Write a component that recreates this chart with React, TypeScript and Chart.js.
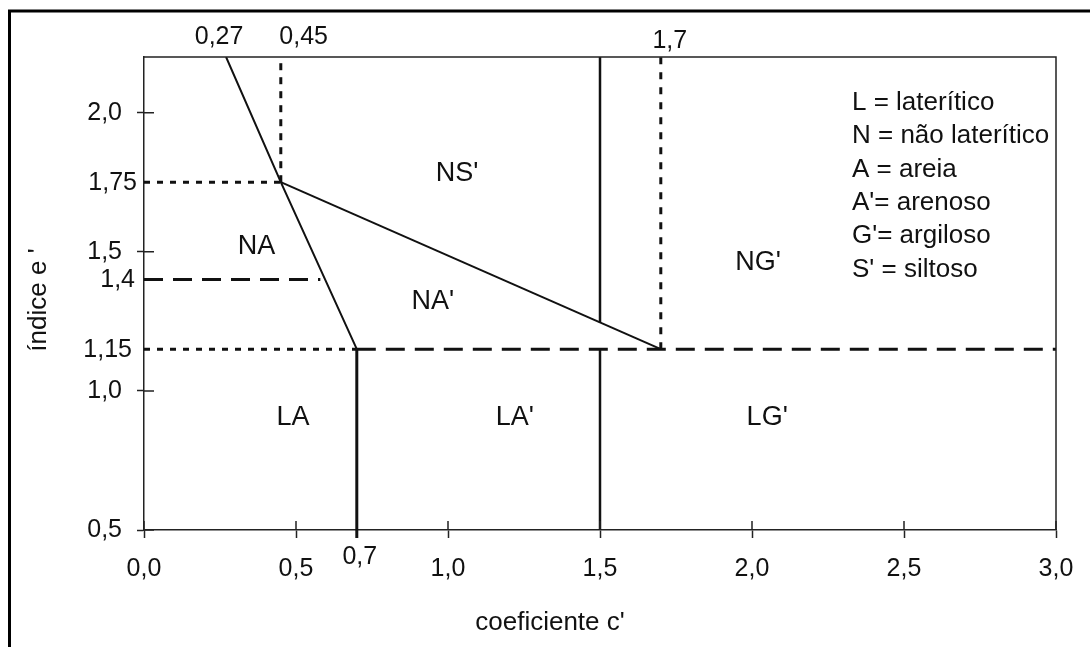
import React, { useEffect, useRef } from "react";
import { Chart, registerables } from "chart.js";

Chart.register(...registerables);

// ---- axis ranges and tick values ----
const X_MIN = 0;
const X_MAX = 3.0;
const Y_MIN = 0.5;
const Y_MAX = 2.2;
const xTickValues = [0, 0.5, 1.0, 1.5, 2.0, 2.5, 3.0];
const yTickValues = [0.5, 1.0, 1.5, 2.0];

// ---- boundary lines (c', e') ----
const slantNA_c = [0.27, 0.45, 0.7];
const slantNA_e = [2.2, 1.75, 1.15];
const slantNS_c = [0.45, 1.7];
const slantNS_e = [1.75, 1.15];
const vert07_c = [0.7, 0.7];
const vert07_e = [0.5, 1.15];
const vert15Top_c = [1.5, 1.5];
const vert15Top_e = [1.246, 2.2];
const vert15Bot_c = [1.5, 1.5];
const vert15Bot_e = [0.5, 1.15];
const dot045_c = [0.45, 0.45];
const dot045_e = [1.75, 2.2];
const dot175_c = [0, 0.45];
const dot175_e = [1.75, 1.75];
const dash14_c = [0, 0.58];
const dash14_e = [1.4, 1.4];
const dot115_c = [0, 0.7];
const dot115_e = [1.15, 1.15];
const dash115_c = [0.7, 3.0];
const dash115_e = [1.15, 1.15];
const dot17_c = [1.7, 1.7];
const dot17_e = [1.15, 2.2];

// ---- region labels ----
const regionNames = ["NS'", "NA", "NA'", "NG'", "LA", "LA'", "LG'"];
const regionC = [1.03, 0.37, 0.95, 2.02, 0.49, 1.22, 2.05];
const regionE = [1.78, 1.52, 1.32, 1.46, 0.905, 0.905, 0.905];

// ---- special axis labels ----
const topLabelText = ["0,27", "0,45", "1,7"];
const topLabelC = [0.27, 0.45, 1.7];
const bottomLabelText = ["0,7"];
const bottomLabelC = [0.7];
const leftLabelText = ["1,75", "1,4", "1,15"];
const leftLabelE = [1.75, 1.4, 1.15];

// ---- legend text ----
const legendLines = [
  "L = laterítico",
  "N = não laterítico",
  "A = areia",
  "A'= arenoso",
  "G'= argiloso",
  "S' = siltoso",
];

const xTitle = "coeficiente c'";
const yTitle = "índice e '";

const FONT = "'Liberation Sans', Arial, Helvetica, sans-serif";
const INK = "#111111";

const fmt = (v: number) => v.toFixed(1).replace(".", ",");
const pts = (c: number[], e: number[]) => c.map((x, i) => ({ x, y: e[i] }));

const line = (c: number[], e: number[], width: number, dash: number[] = []) => ({
  data: pts(c, e),
  showLine: true,
  borderColor: INK,
  borderWidth: width,
  borderDash: dash,
  pointRadius: 0,
  fill: false,
  tension: 0,
});

const annotPlugin = {
  id: "annot",
  afterDraw(chart: any) {
    const { ctx, chartArea } = chart;
    const xs = chart.scales.x;
    const ys = chart.scales.y;
    const { left, right, top, bottom } = chartArea;
    ctx.save();

    // outer frame (top + left visible)
    ctx.strokeStyle = "#000";
    ctx.lineWidth = 3;
    ctx.beginPath();
    ctx.moveTo(9.5, 647);
    ctx.lineTo(9.5, 11);
    ctx.lineTo(1090, 11);
    ctx.stroke();

    // top and right borders of plot
    ctx.strokeStyle = "#222";
    ctx.lineWidth = 1.5;
    ctx.beginPath();
    ctx.moveTo(left, top);
    ctx.lineTo(right, top);
    ctx.lineTo(right, bottom);
    ctx.stroke();

    // inner parts of the crossing tick marks
    ctx.beginPath();
    xTickValues.forEach((v) => {
      const px = xs.getPixelForValue(v);
      ctx.moveTo(px, bottom);
      ctx.lineTo(px, bottom - 9);
    });
    yTickValues.forEach((v) => {
      const py = ys.getPixelForValue(v);
      ctx.moveTo(left, py);
      ctx.lineTo(left + 10, py);
    });
    ctx.stroke();

    // 0.7 line extension below axis
    ctx.strokeStyle = INK;
    ctx.lineWidth = 3;
    ctx.beginPath();
    const p07 = xs.getPixelForValue(0.7);
    ctx.moveTo(p07, bottom);
    ctx.lineTo(p07, bottom + 8);
    ctx.stroke();

    ctx.fillStyle = INK;

    // region labels
    ctx.font = `27px ${FONT}`;
    ctx.textAlign = "center";
    ctx.textBaseline = "middle";
    regionNames.forEach((t, i) => {
      ctx.fillText(t, xs.getPixelForValue(regionC[i]), ys.getPixelForValue(regionE[i]));
    });

    ctx.font = `25px ${FONT}`;
    // top labels
    ctx.textBaseline = "alphabetic";
    const topAlign = ["center", "left", "center"];
    const topDx = [-7, -1.5, 9];
    const topDy = [-13, -13, -9];
    topLabelText.forEach((t, i) => {
      ctx.textAlign = topAlign[i];
      ctx.fillText(t, xs.getPixelForValue(topLabelC[i]) + topDx[i], top + topDy[i]);
    });

    // bottom special label
    ctx.textAlign = "center";
    bottomLabelText.forEach((t, i) => {
      ctx.fillText(t, xs.getPixelForValue(bottomLabelC[i]) + 3, bottom + 34);
    });

    // left special labels
    ctx.textAlign = "right";
    ctx.textBaseline = "middle";
    const leftDx = [-7, -9, -12];
    leftLabelText.forEach((t, i) => {
      ctx.fillText(t, left + leftDx[i], ys.getPixelForValue(leftLabelE[i]) + 1);
    });

    // legend text
    ctx.font = `26px ${FONT}`;
    ctx.textAlign = "left";
    ctx.textBaseline = "middle";
    legendLines.forEach((t, i) => {
      ctx.fillText(t, 852, 103 + i * 33.3);
    });

    // axis titles
    ctx.font = `26px ${FONT}`;
    ctx.textAlign = "center";
    ctx.fillText(xTitle, 550, 623);
    ctx.save();
    ctx.translate(39, 300);
    ctx.rotate(-Math.PI / 2);
    ctx.fillText(yTitle, 0, 0);
    ctx.restore();

    ctx.restore();
  },
};

export default function App() {
  const ref = useRef<HTMLCanvasElement | null>(null);

  useEffect(() => {
    if (!ref.current) return;
    const datasets: any[] = [
      line(slantNA_c, slantNA_e, 2),
      line(slantNS_c, slantNS_e, 2),
      line(vert07_c, vert07_e, 3),
      line(vert15Top_c, vert15Top_e, 2.5),
      line(vert15Bot_c, vert15Bot_e, 2.5),
      line(dot045_c, dot045_e, 3, [7, 7]),
      line(dot175_c, dot175_e, 3, [6, 7]),
      line(dash14_c, dash14_e, 3, [19, 10]),
      line(dot115_c, dot115_e, 3, [6, 7]),
      line(dash115_c, dash115_e, 3, [19, 10]),
      line(dot17_c, dot17_e, 3, [7, 8]),
    ];

    const chart = new Chart(ref.current, {
      type: "scatter",
      data: { datasets },
      options: {
        animation: false,
        responsive: true,
        maintainAspectRatio: false,
        events: [],
        layout: { padding: { left: 0, top: 57, right: 34, bottom: 0 } },
        plugins: {
          legend: { display: false },
          tooltip: { enabled: false },
        },
        scales: {
          x: {
            type: "linear",
            min: X_MIN,
            max: X_MAX,
            afterBuildTicks: (s: any) => {
              s.ticks = xTickValues.map((v) => ({ value: v }));
            },
            afterFit: (s: any) => {
              s.height = 117;
            },
            grid: {
              drawOnChartArea: false,
              tickLength: 8,
              tickColor: "#222",
              tickWidth: 1.5,
            },
            border: { color: "#222", width: 1.5 },
            ticks: {
              color: INK,
              font: { family: FONT, size: 25 },
              padding: 16,
              maxRotation: 0,
              autoSkip: false,
              callback: (v: any) => fmt(Number(v)),
            },
          },
          y: {
            type: "linear",
            min: Y_MIN,
            max: Y_MAX,
            afterBuildTicks: (s: any) => {
              s.ticks = yTickValues.map((v) => ({ value: v }));
            },
            afterFit: (s: any) => {
              s.width = 144;
            },
            grid: {
              drawOnChartArea: false,
              tickLength: 7,
              tickColor: "#222",
              tickWidth: 1.5,
            },
            border: { color: "#222", width: 1.5 },
            ticks: {
              color: INK,
              font: { family: FONT, size: 25 },
              padding: 15,
              autoSkip: false,
              callback: (v: any) => fmt(Number(v)),
            },
          },
        },
      } as any,
      plugins: [annotPlugin],
    });
    return () => chart.destroy();
  }, []);

  return (
    <div
      style={{
        position: "fixed",
        left: 0,
        top: 0,
        width: 1090,
        height: 647,
        background: "#fff",
      }}
    >
      <canvas ref={ref} />
    </div>
  );
}
